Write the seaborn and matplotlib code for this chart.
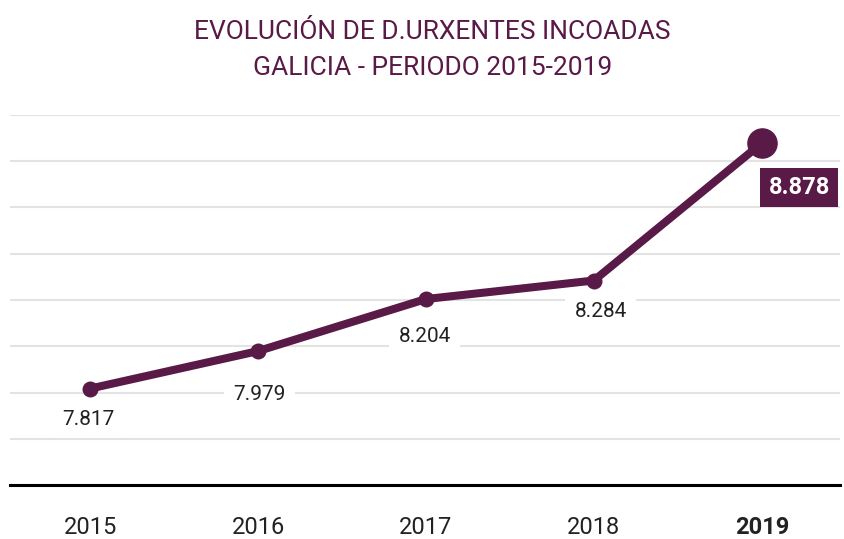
import matplotlib
matplotlib.use("Agg")
import matplotlib.pyplot as plt
import seaborn as sns
import pandas as pd

# datos
years = [2015, 2016, 2017, 2018, 2019]
values = [7.817, 7.979, 8.204, 8.284, 8.878]
labels = ["7.817", "7.979", "8.204", "8.284", "8.878"]
# desplazamiento de las etiquetas (puntos)
label_offsets = [(-1, -22), (1, -31), (-1, -27), (5, -22)]

purple = "#5a1a48"

sns.set_theme(style="white")
plt.rcParams["font.family"] = ["Roboto", "DejaVu Sans"]

df = pd.DataFrame({"anio": years, "valor": values})

fig = plt.figure(figsize=(8.44, 5.39), dpi=100)
ax = fig.add_axes([0.012, 0.100, 0.983, 0.687])

sns.lineplot(data=df, x="anio", y="valor", color=purple, linewidth=5.8,
             marker="o", markersize=11.5, markeredgewidth=0, ax=ax, zorder=3)
ax.plot(years[-1], values[-1], "o", color=purple, markersize=21, zorder=4)

ax.set_xlim(2015 - 0.476, 2019 + 0.464)
ax.set_ylim(7.4, 9.0)
ax.set_yticks([7.6, 7.8, 8.0, 8.2, 8.4, 8.6, 8.8, 9.0])
ax.yaxis.grid(True, color="#e3e3e3", linewidth=1.5)
ax.tick_params(axis="y", left=False, labelleft=False)
for s in ["top", "right", "left"]:
    ax.spines[s].set_visible(False)
ax.spines["bottom"].set_color("black")
ax.spines["bottom"].set_linewidth(2.2)
ax.set_xticks(years)
ax.set_xticklabels([str(y) for y in years], fontsize=17, color="#222222")
ax.get_xticklabels()[-1].set_fontweight("bold")
ax.tick_params(axis="x", bottom=False, length=0, pad=22)
ax.set_xlabel("")
ax.set_ylabel("")

for i in range(4):
    ax.annotate(labels[i], (years[i], values[i]), xytext=label_offsets[i],
                textcoords="offset points", ha="center", va="center",
                fontsize=15, color="#222222", zorder=2,
                bbox=dict(boxstyle="square,pad=0.45", fc="white", ec="none"))

ax.annotate(labels[-1], (years[-1], values[-1]), xytext=(27, -32),
            textcoords="offset points", ha="center", va="center",
            fontsize=17, fontweight="bold", color="white", zorder=5,
            bbox=dict(boxstyle="square,pad=0.35", fc=purple, ec="none"),
            annotation_clip=False)

fig.text(0.512, 0.907, "EVOLUCIÓN DE D.URXENTES INCOADAS\nGALICIA - PERIODO 2015-2019",
         ha="center", va="center", fontsize=19, color=purple, linespacing=1.65)

fig.savefig("out.png", dpi=100)
